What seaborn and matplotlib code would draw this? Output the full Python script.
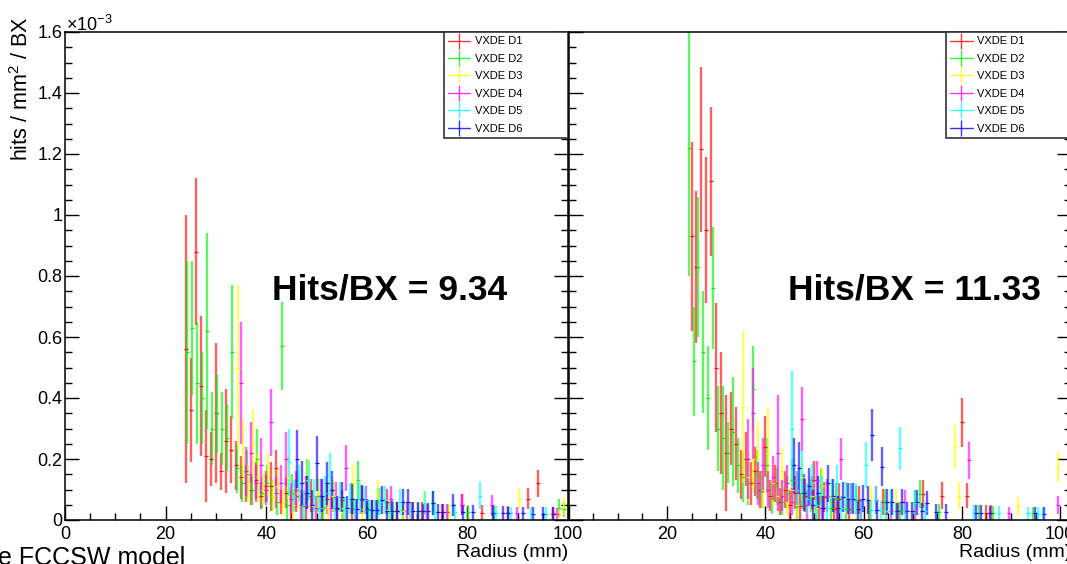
import numpy as np
import pandas as pd
import matplotlib
matplotlib.use("Agg")
import matplotlib.pyplot as plt
import seaborn as sns
from matplotlib.lines import Line2D
from matplotlib.ticker import MultipleLocator, FuncFormatter

# ---------------- data (values in units of 1e-3 hits / mm^2 / BX, 1 mm radial bins) -------------
labels = ["VXDE D1", "VXDE D2", "VXDE D3", "VXDE D4", "VXDE D5", "VXDE D6"]
colors = ["#ff0000", "#00ee00", "#ffff00", "#ff00ff", "#00ffff", "#0000ff"]
panel_titles = ["Hits/BX = 9.34", "Hits/BX = 11.33"]
x_ticks = [0, 20, 40, 60, 80, 100]

# ---- left panel
a_d1_start = 24.0
a_d1_val = [0.56,0.36,0.88,0.44,0.21,0.20,0.35,0.16,0.26,0.23, 0.18,0.14,0.12,0.10,0.13,0.08,0.11,0.11,0.17,0.06,
            0.09,0.05,0.08,0,0.045,0.08,0,0.04,0.07,0, 0.037,0.065,0,0.035,0,0.065,0,0.033,0,0,
            0.06,0,0.03,0,0,0.03,0,0.03,0,0, 0,0.027,0,0,0,0.05,0,0,0,0.024,
            0,0,0,0,0.023,0,0,0,0.07,0, 0.12,0,0,0.022]
a_d1_err = [0.44,0.17,0.24,0.23,0.15,0.09,0.23,0.06,0.17,0.11, 0.08,0.07,0.06,0.05,0.06,0.045,0.05,0.08,0.06,0.04,
            0.05,0.05,0.055,0,0.045,0.055,0,0.04,0.05,0, 0.037,0.035,0,0.035,0,0.045,0,0.033,0,0,
            0.042,0,0.03,0,0,0.03,0,0.03,0,0, 0,0.027,0,0,0,0.035,0,0,0,0.024,
            0,0,0,0,0.023,0,0,0,0.035,0, 0.045,0,0,0.022]

a_d2_start = 24.2
a_d2_val = [0.55,0.63,0.45,0.40,0.62,0.30,0.35,0.30,0.27,0.55, 0.17,0.12,0.15,0.10,0.20,0.09,0.12,0.08,0.06,0.57,
            0.05,0.09,0,0.045,0.13,0,0.08,0.04,0,0.075, 0,0.037,0,0.07,0.13,0,0.033,0,0.06,0,
            0,0.03,0,0.03,0,0,0.028,0,0,0.055, 0,0,0.027,0,0,0,0.025,0,0,0,
            0,0.023,0,0,0,0,0,0,0,0, 0,0,0,0,0.04,0.035]
a_d2_err = [0.30,0.22,0.20,0.15,0.32,0.12,0.13,0.12,0.11,0.22, 0.08,0.06,0.08,0.05,0.10,0.05,0.06,0.05,0.045,0.145,
            0.05,0.06,0,0.045,0.07,0,0.055,0.04,0,0.05, 0,0.037,0,0.05,0.065,0,0.033,0,0.045,0,
            0,0.03,0,0.03,0,0,0.028,0,0,0.04, 0,0,0.027,0,0,0,0.025,0,0,0,
            0,0.023,0,0,0,0,0,0,0,0, 0,0,0,0,0.03,0.025]

a_d3_start = 34.3
a_d3_val = [0.50,0.23,0.12,0.25,0.14,0.10,0.15,0.08,0.11,0.06, 0.14,0.05,0.09,0,0.13,0.045,0.09,0,0.04,0.08,
            0,0.04,0,0.12,0,0.035,0,0,0.085,0, 0.033,0,0,0.03,0,0,0,0.055,0,0,
            0,0,0.027,0,0,0,0,0,0,0, 0,0,0,0,0,0,0.07,0,0,0, 0,0,0,0,0.02,0.045]
a_d3_err = [0.27,0.10,0.06,0.11,0.08,0.05,0.07,0.05,0.06,0.045, 0.07,0.05,0.06,0,0.07,0.045,0.05,0,0.04,0.05,
            0,0.04,0,0.06,0,0.035,0,0,0.045,0, 0.033,0,0,0.03,0,0,0,0.04,0,0,
            0,0,0.027,0,0,0,0,0,0,0, 0,0,0,0,0,0,0.035,0,0,0, 0,0,0,0,0.02,0.03]

a_d4_start = 34.9
a_d4_val = [0.45,0.16,0.22,0.12,0.18,0.10,0.32,0.09,0.12,0.20, 0.07,0.10,0.05,0.09,0,0.04,0.08,0,0.04,0.075,
            0,0.17,0,0.035,0,0.065,0,0.033,0,0, 0.07,0,0,0.03,0,0,0,0.028,0,0,
            0,0.027,0,0,0.05,0,0,0,0,0, 0.048,0,0,0,0,0.022,0,0,0,0, 0,0,0,0.02]
a_d4_err = [0.20,0.08,0.10,0.06,0.09,0.05,0.11,0.05,0.06,0.09, 0.05,0.06,0.05,0.055,0,0.04,0.055,0,0.04,0.05,
            0,0.075,0,0.035,0,0.045,0,0.033,0,0, 0.04,0,0,0.03,0,0,0,0.028,0,0,
            0,0.027,0,0,0.035,0,0,0,0,0, 0.034,0,0,0,0,0.022,0,0,0,0, 0,0,0,0.02]

a_d5_start = 44.6
a_d5_val = [0.19,0.08,0.12,0.05,0.13,0.08,0.04,0.09,0.15,0.04, 0.075,0.037,0.07,0.035,0.07,0.065,0.033,0.033,0.06,0.065,
            0.031,0,0.06,0,0.03,0,0,0.056,0,0.027, 0,0,0,0.026,0,0,0,0,0.08,0,
            0,0.023,0,0,0.022,0,0,0,0.022,0, 0,0.021]
a_d5_err = [0.11,0.05,0.06,0.05,0.065,0.055,0.04,0.055,0.07,0.04, 0.05,0.037,0.05,0.035,0.05,0.045,0.033,0.033,0.045,0.045,
            0.031,0,0.042,0,0.03,0,0,0.04,0,0.027, 0,0,0,0.026,0,0,0,0,0.045,0,
            0,0.023,0,0,0.022,0,0,0,0.022,0, 0,0.021]

a_d6_start = 46.1
a_d6_val = [0.20,0.12,0.09,0.05,0.186,0.08,0.12,0.10,0.04,0.075, 0.04,0.07,0.035,0.07,0.035,0.033,0.033,0.065,0.031,0.031,
            0.03,0.06,0.06,0.03,0.029,0.028,0.028,0.055,0.027,0.027, 0,0.05,0,0.025,0,0.025,0,0,0,0.023,
            0,0.023,0.022,0,0,0.022,0,0.021,0,0.021, 0,0.021]
a_d6_err = [0.095,0.075,0.055,0.05,0.09,0.055,0.07,0.06,0.04,0.05, 0.04,0.05,0.035,0.045,0.035,0.033,0.033,0.045,0.031,0.031,
            0.03,0.042,0.042,0.03,0.029,0.028,0.028,0.04,0.027,0.027, 0,0.036,0,0.025,0,0.025,0,0,0,0.023,
            0,0.023,0.022,0,0,0.022,0,0.021,0,0.021, 0,0.021]

# ---- right panel
b_d1_start = 25.0
b_d1_val = [0.93,0.83,1.215,0.95,1.11,0.50,0.35,0.22,0.30,0.25, 0.15,0.20,0.12,0.16,0.10,0.24,0.08,0.12,0.06,0.10,
            0.05,0.09,0.045,0.08,0,0.13,0.04,0.075,0,0.037, 0.07,0,0.035,0,0.065,0,0.033,0,0,0.06,
            0,0,0.03,0,0,0,0,0.085,0,0, 0,0.08,0,0,0,0.32,0.08,0,0,0, 0.024,0.024]
b_d1_err = [0.31,0.25,0.27,0.24,0.245,0.21,0.20,0.19,0.12,0.12, 0.08,0.09,0.07,0.08,0.06,0.10,0.05,0.06,0.045,0.06,
            0.05,0.055,0.045,0.055,0,0.065,0.04,0.05,0,0.037, 0.05,0,0.035,0,0.045,0,0.033,0,0,0.043,
            0,0,0.03,0,0,0,0,0.045,0,0, 0,0.045,0,0,0,0.08,0.04,0,0,0, 0.024,0.024]

b_d2_start = 24.4
b_d2_val = [1.22,0.52,0.83,0.55,0.40,0.76,0.30,0.27,0.22,0.29, 0.18,0.14,0.12,0.43,0.15,0.10,0.18,0.07,0.11,0.06,
            0.09,0.13,0.045,0.09,0,0.08,0.04,0.11,0,0.04, 0.07,0,0.035,0,0.065,0,0,0.033,0,0,
            0.06,0,0,0.03,0,0,0.06,0.085,0,0, 0,0.027,0,0,0,0,0,0,0,0.024,
            0,0,0.023,0,0,0,0,0,0,0, 0.022]
b_d2_err = [0.42,0.18,0.23,0.20,0.17,0.20,0.14,0.17,0.10,0.18, 0.09,0.08,0.07,0.14,0.08,0.06,0.09,0.05,0.06,0.045,
            0.055,0.07,0.045,0.055,0,0.055,0.04,0.06,0,0.04, 0.05,0,0.035,0,0.045,0,0,0.033,0,0,
            0.043,0,0,0.03,0,0,0.04,0.045,0,0, 0,0.027,0,0,0,0,0,0,0,0.024,
            0,0,0.023,0,0,0,0,0,0,0, 0.022]

b_d3_start = 35.5
b_d3_val = [0.37,0.14,0.20,0.22,0.10,0.22,0.12,0.08,0.16,0.06, 0.10,0.05,0.14,0,0.08,0.04,0.11,0,0.075,0.038,
            0,0.07,0,0.035,0,0,0.065,0,0,0.031, 0,0.06,0,0,0,0.029,0,0,0,0,
            0,0,0,0.24,0.08,0,0,0,0,0, 0,0,0,0,0,0,0.045,0,0,0, 0,0,0,0,0.175]
b_d3_err = [0.25,0.08,0.10,0.10,0.06,0.15,0.07,0.05,0.08,0.045, 0.06,0.05,0.07,0,0.055,0.04,0.06,0,0.05,0.038,
            0,0.05,0,0.035,0,0,0.045,0,0,0.031, 0,0.042,0,0,0,0.029,0,0,0,0,
            0,0,0,0.07,0.045,0,0,0,0,0, 0,0,0,0,0,0,0.032,0,0,0, 0,0,0,0,0.05]

b_d4_start = 36.5
b_d4_val = [0.20,0.35,0.12,0.18,0.10,0.14,0.22,0.08,0.12,0.06, 0.10,0.33,0.05,0.09,0.13,0.04,0.08,0,0.04,0.20,
            0,0.07,0,0.035,0,0,0.065,0,0,0.031, 0,0,0.06,0,0.03,0,0,0,0,0,
            0,0,0,0,0,0.196,0,0,0,0, 0,0,0,0.022,0,0,0,0,0,0, 0,0,0,0.05]
b_d4_err = [0.13,0.15,0.07,0.09,0.06,0.07,0.19,0.05,0.06,0.045, 0.06,0.105,0.05,0.055,0.065,0.04,0.055,0,0.04,0.07,
            0,0.05,0,0.035,0,0,0.045,0,0,0.031, 0,0,0.04,0,0.03,0,0,0,0,0,
            0,0,0,0,0,0.06,0,0,0,0, 0,0,0,0.022,0,0,0,0,0,0, 0,0,0,0.03]

b_d5_start = 45.5
b_d5_val = [0.30,0.10,0.15,0.07,0.12,0.05,0.09,0.04,0.08,0.12, 0.04,0.075,0.07,0.07,0.035,0.18,0.033,0.065,0.033,0.031,
            0.06,0.03,0.235,0.03,0,0.057,0,0.028,0,0, 0,0,0,0,0,0,0,0.024,0,0,
            0,0,0.023,0,0,0,0,0,0.022,0, 0.021,0.021]
b_d5_err = [0.19,0.06,0.08,0.05,0.065,0.05,0.055,0.04,0.055,0.06, 0.04,0.05,0.05,0.05,0.035,0.075,0.033,0.045,0.033,0.031,
            0.043,0.03,0.07,0.03,0,0.04,0,0.028,0,0, 0,0,0,0,0,0,0,0.024,0,0,
            0,0,0.023,0,0,0,0,0,0.022,0, 0.021,0.021]

b_d6_start = 45.8
b_d6_val = [0.18,0.17,0.09,0.11,0.05,0.09,0.04,0.12,0.08,0.04, 0.075,0.07,0.07,0.035,0.07,0.065,0.28,0.033,0.175,0.06,
            0.06,0.03,0.06,0.03,0.03,0.058,0.028,0.056,0,0.027, 0,0.026,0,0,0,0,0,0.024,0.024,0,
            0.023,0,0,0,0,0,0,0,0,0.022, 0,0.021]
b_d6_err = [0.09,0.085,0.06,0.06,0.05,0.055,0.04,0.06,0.055,0.04, 0.05,0.05,0.05,0.035,0.045,0.045,0.085,0.033,0.065,0.043,
            0.042,0.03,0.042,0.03,0.03,0.041,0.028,0.04,0,0.027, 0,0.026,0,0,0,0,0,0.024,0.024,0,
            0.023,0,0,0,0,0,0,0,0,0.022, 0,0.021]

panel_a = [(a_d1_start, a_d1_val, a_d1_err), (a_d2_start, a_d2_val, a_d2_err), (a_d3_start, a_d3_val, a_d3_err),
           (a_d4_start, a_d4_val, a_d4_err), (a_d5_start, a_d5_val, a_d5_err), (a_d6_start, a_d6_val, a_d6_err)]
panel_b = [(b_d1_start, b_d1_val, b_d1_err), (b_d2_start, b_d2_val, b_d2_err), (b_d3_start, b_d3_val, b_d3_err),
           (b_d4_start, b_d4_val, b_d4_err), (b_d5_start, b_d5_val, b_d5_err), (b_d6_start, b_d6_val, b_d6_err)]

# ---------------- style ----------------
sns.set_theme(style="ticks")
plt.rcParams["font.family"] = ["Liberation Sans", "DejaVu Sans"]
plt.rcParams["mathtext.fontset"] = "custom"
plt.rcParams["mathtext.rm"] = "Liberation Sans"
plt.rcParams["mathtext.it"] = "Liberation Sans:italic"
plt.rcParams["mathtext.bf"] = "Liberation Sans:bold"
plt.rcParams["text.color"] = "black"
plt.rcParams["axes.labelcolor"] = "black"
plt.rcParams["xtick.color"] = "black"
plt.rcParams["ytick.color"] = "black"

W, H = 1067, 564
fig = plt.figure(figsize=(W / 100, H / 100), dpi=100)
fig.patch.set_facecolor("white")


def px_axes(l, t, r, b):
    return fig.add_axes([l / W, 1 - b / H, (r - l) / W, (b - t) / H])


ax1 = px_axes(65, 32, 568, 520)
ax2 = px_axes(568.7, 32, 1071, 520)
ax1.set_xlim(0, 100)
ax2.set_xlim(0, 102.2)

for ax, series in ((ax1, panel_a), (ax2, panel_b)):
    ax.set_facecolor("white")
    for (start, vals, errs), color, label in zip(series, colors, labels):
        v = np.asarray(vals, dtype=float)
        e = np.asarray(errs, dtype=float)
        r = start + np.arange(len(v))
        m = v > 0
        df = pd.DataFrame({"r": r[m], "v": v[m], "e": e[m]})
        ax.errorbar(df["r"], df["v"], yerr=df["e"], fmt="none", ecolor=color,
                    elinewidth=1.7, alpha=0.62, capsize=0, zorder=2)
        sns.scatterplot(data=df, x="r", y="v", ax=ax, marker="_", s=7,
                        color=color, edgecolor=color, facecolor=color,
                        linewidth=0.9, alpha=0.9, legend=False, zorder=3)
    ax.set_ylim(0, 1.6)
    ax.set_xticks(x_ticks)
    ax.xaxis.set_minor_locator(MultipleLocator(5))
    ax.yaxis.set_major_locator(MultipleLocator(0.2))
    ax.yaxis.set_minor_locator(MultipleLocator(0.05))
    ax.yaxis.set_major_formatter(FuncFormatter(lambda y, p: "%g" % round(y, 2)))
    ax.tick_params(which="both", direction="in", left=True, right=True, top=False, bottom=True,
                   color="black", width=1.0, labelsize=13, labelcolor="black")
    ax.tick_params(which="major", length=10)
    ax.tick_params(which="minor", length=5)
    ax.tick_params(axis="y", pad=2)
    ax.tick_params(axis="x", pad=4)
    for s in ax.spines.values():
        s.set_linewidth(1.1)
        s.set_color("black")
    ax.set_ylabel("")
    ax.set_xlabel("Radius (mm)", fontsize=14, ha="right", va="center", color="black")
    ax.xaxis.set_label_coords(1.0, -0.066)

ax2.tick_params(labelleft=False)
ax2.xaxis.set_major_formatter(FuncFormatter(lambda x, p: "" if x == 0 else "%d" % x))

ax1.text(64.6, 0.754, panel_titles[0], ha="center", va="center", fontsize=25.5,
         fontweight="bold", color="black")
ax2.text(70.4, 0.754, panel_titles[1], ha="center", va="center", fontsize=25.5,
         fontweight="bold", color="black")

handles = [Line2D([0], [0], color=c, lw=1.0, marker="|", markersize=11, markeredgewidth=1.0,
                  alpha=0.8, label=l) for c, l in zip(colors, labels)]
for ax, x0 in ((ax1, 0.753), (ax2, 0.751)):
    leg = ax.legend(handles=handles, loc="upper left", bbox_to_anchor=(x0, 0, 1 - x0, 1.0),
                    mode="expand", borderaxespad=0, fontsize=8, frameon=True, fancybox=False,
                    framealpha=1, borderpad=0.4, labelspacing=0.67, handlelength=2.0,
                    handletextpad=0.4)
    leg.get_frame().set_edgecolor("#333333")
    leg.get_frame().set_linewidth(1.2)
    for t in leg.get_texts():
        t.set_color("black")

fig.text(22 / W, 1 - 16 / H, "hits / mm$^{2}$ / BX", rotation=90, ha="center", va="top",
         fontsize=15.5, color="black")
fig.text(66 / W, 1 - 31 / H, r"$\times$10$^{-3}$", ha="left", va="baseline", fontsize=13, color="black")
fig.text(-0.002, 1 - 546 / H, "e FCCSW model", ha="left", va="top", fontsize=18, color="black")

fig.savefig("out.png", dpi=100, facecolor="white")
